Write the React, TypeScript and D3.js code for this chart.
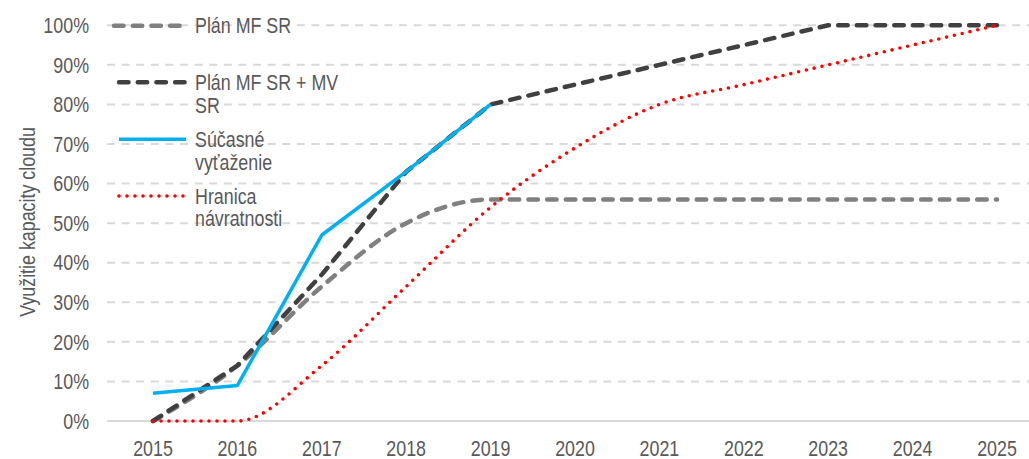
import React from "react";
import * as d3 from "d3";

const years = ["2015", "2016", "2017", "2018", "2019", "2020", "2021", "2022", "2023", "2024", "2025"];
const planMF = [0, 14, 34, 50, 56, 56, 56, 56, 56, 56, 56];
const planMFMV = [0, 14, 37, 63, 80, 85, 90, 95, 100, 100, 100];
const actual = [7, 9, 47, 63, 80];
const breakEven = [0, 0, 14, 34, 54, 69, 80, 85, 90, 95, 100];
const yTicks = [0, 10, 20, 30, 40, 50, 60, 70, 80, 90, 100];

const W = 1029;
const H = 459;
const FONT = "'Liberation Sans', Arial, sans-serif";
const TXT = "#595959";
const SX = 0.83;
const FS = 21.5;

const x = d3.scaleBand<string>().domain(years).range([110.8, 1039.2]);
const y = d3.scaleLinear().domain([0, 100]).range([421, 25.3]);
const cx = (i: number) => (x(years[i]) as number) + x.bandwidth() / 2;

const smooth = d3.line<number>().x((_, i) => cx(i)).y((v) => y(v)).curve(d3.curveMonotoneX);
const straight = d3.line<number>().x((_, i) => cx(i)).y((v) => y(v));

const series = [
  { name: ["Plán MF SR"], d: smooth(planMF), color: "#808080", w: 4.5, dash: "9.5 9.2", cap: "round" },
  { name: ["Plán MF SR + MV", "SR"], d: straight(planMFMV), color: "#404040", w: 4.5, dash: "9.5 9.2", cap: "round" },
  { name: ["Súčasné", "vyťaženie"], d: straight(actual), color: "#00B0F0", w: 3.5, dash: null, cap: "butt" },
  { name: ["Hranica", "návratnosti"], d: smooth(breakEven), color: "#FF0000", w: 3.6, dash: "0 8", cap: "round" },
];
const legendY = [25.7, 82.3, 139.3, 196];

function T(props: { x: number; y: number; anchor?: string; rotate?: number; children: React.ReactNode }) {
  const rot = props.rotate ? ` rotate(${props.rotate})` : "";
  return (
    <text transform={`translate(${props.x},${props.y})${rot} scale(${SX},1)`} dy="0.36em"
      textAnchor={props.anchor || "start"} fontSize={FS} fill={TXT}>{props.children}</text>
  );
}

export default function App() {
  return (
    <svg width={W} height={H} style={{ position: "absolute", left: 0, top: 0 }} fontFamily={FONT}>
      {yTicks.filter((t) => t > 0).map((t) => (
        <line key={t} x1={107} x2={W} y1={y(t)} y2={y(t)} stroke="#D9D9D9" strokeWidth={2} strokeDasharray="8 6.6" />
      ))}
      <line x1={107} x2={W} y1={y(0)} y2={y(0)} stroke="#D9D9D9" strokeWidth={2} />
      {yTicks.map((t) => (
        <T key={t} x={89} y={y(t)} anchor="end">{t}%</T>
      ))}
      {years.map((yr, i) => (
        <T key={yr} x={cx(i)} y={448} anchor="middle">{yr}</T>
      ))}
      <T x={27} y={222} anchor="middle" rotate={-90}>Využitie kapacity cloudu</T>
      {series.map((s, i) => (
        <path key={i} d={s.d || ""} fill="none" stroke={s.color} strokeWidth={s.w}
          strokeDasharray={s.dash || undefined} strokeLinecap={s.cap as any} strokeLinejoin="round" />
      ))}
      {series.map((s, i) => (
        <g key={"lg" + i}>
          <line x1={i === 0 ? 114 : 119} x2={186} y1={legendY[i]} y2={legendY[i]} stroke={s.color} strokeWidth={s.w}
            strokeDasharray={s.dash || undefined} strokeLinecap={s.cap as any} />
          {s.name.map((n, j) => (
            <T key={j} x={195} y={legendY[i] + j * 22.7}>{n}</T>
          ))}
        </g>
      ))}
    </svg>
  );
}
